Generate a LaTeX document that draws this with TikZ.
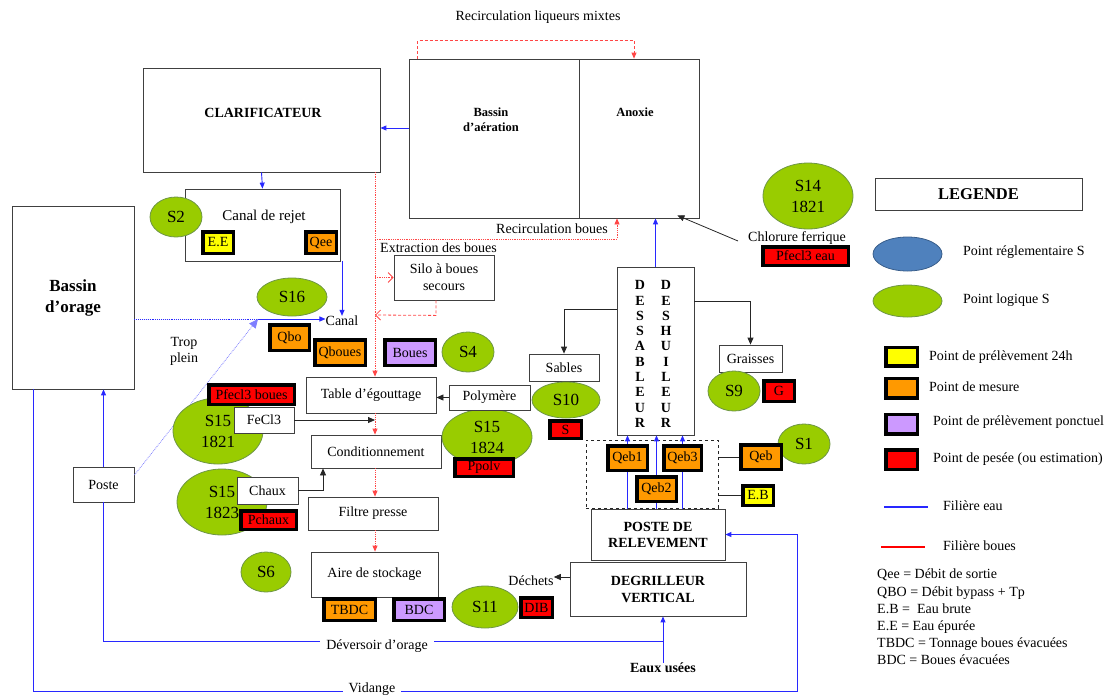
\documentclass[tikz,border=0pt]{standalone}
\usepackage{fontspec}
\setmainfont{Liberation Serif}
\usetikzlibrary{shapes.geometric,arrows.meta}

\definecolor{vertS}{RGB}{153,204,0}
\definecolor{vertB}{RGB}{110,150,70}
\definecolor{bleuS}{RGB}{79,129,189}
\definecolor{bleuB}{RGB}{56,93,138}
\definecolor{orangeM}{RGB}{255,153,0}
\definecolor{jauneP}{RGB}{255,255,0}
\definecolor{mauveP}{RGB}{204,153,255}
\definecolor{rougeP}{RGB}{255,0,0}
\definecolor{bleuF}{RGB}{40,40,255}
\definecolor{rougeF}{RGB}{255,70,70}

\begin{document}
\begin{tikzpicture}[x=1pt,y=1pt]
\tikzstyle{every node}+=[inner sep=0pt, font=\fontsize{14}{16}\selectfont]
\tikzstyle{boite}=[draw=black!75, fill=white, line width=0.8pt]
\tikzstyle{ptS}=[ellipse, draw=vertB, fill=vertS, line width=0.8pt, align=center, font=\fontsize{17}{21}\selectfont]
\tikzstyle{cadre}=[draw=black, line width=3.5pt]
\tikzstyle{eau}=[draw=bleuF, line width=0.9pt]
\tikzstyle{boue}=[draw=rougeF, densely dotted, line width=0.8pt]
\tikzstyle{fl}=[-{Triangle[length=6pt,width=5pt]}]
\tikzstyle{flo}=[-{Straight Barb[length=5pt,width=10pt]}]
\tikzstyle{noir}=[draw=black!85, line width=0.8pt, -{Triangle[length=7pt,width=6pt]}]
\useasboundingbox (0,0) rectangle (1113,-697);

% boites principales
\node[boite, minimum width=237, minimum height=104] (clarif) at (261.5,-120) {};
\node[font=\fontsize{14}{16}\selectfont\bfseries] (clarifT) at (263,-113) {CLARIFICATEUR};
\node[boite, minimum width=170, minimum height=159] (aer) at (494,-138.5) {};
\node[boite, minimum width=120, minimum height=159] (anox) at (639,-138.5) {};
\node[align=center, font=\fontsize{12.5}{15}\selectfont\bfseries] (aerT) at (491,-120) {Bassin\\d’aération};
\node[font=\fontsize{12.5}{15}\selectfont\bfseries] (anoxT) at (635,-112) {Anoxie};
\node[boite, minimum width=155, minimum height=72] (rejet) at (262.5,-225) {};
\node[font=\fontsize{15}{18}\selectfont] (rejetT) at (264,-217) {Canal de rejet};
\node[boite, minimum width=122, minimum height=183, align=center, font=\fontsize{17}{21}\selectfont\bfseries] (orage) at (73,-297.5) {Bassin\\d’orage};
\node[boite, minimum width=61, minimum height=35] (poste) at (103.5,-484.5) {Poste};
\node[boite, minimum width=100, minimum height=45, align=center, font=\fontsize{14}{17}\selectfont] (silo) at (444,-277.5) {Silo à boues\\secours};
\node[boite, minimum width=130, minimum height=36] (table) at (371,-395) {Table d’égouttage};
\node[boite, minimum width=130, minimum height=33] (cond) at (376,-451.5) {Conditionnement};
\node[boite, minimum width=130, minimum height=33] (filtre) at (373,-513.5) {Filtre presse};
\node[boite, minimum width=127, minimum height=45] (aire) at (374.5,-574.5) {Aire de stockage};
\node[boite, minimum width=70, minimum height=27] (sables) at (564,-367.5) {Sables};
\node[boite, minimum width=77, minimum height=168] (dess) at (655.5,-351) {};
\node[align=center, font=\fontsize{14}{15.3}\selectfont\bfseries] (dessA) at (640,-354) {D\\E\\S\\S\\A\\B\\L\\E\\U\\R};
\node[align=center, font=\fontsize{14}{15.3}\selectfont\bfseries] (dessB) at (666,-354) {D\\E\\S\\H\\U\\I\\L\\E\\U\\R};
\node[boite, minimum width=63, minimum height=27] (graisses) at (750.5,-358.5) {Graisses};
\node[draw=black!85, dashed, line width=0.8pt, minimum width=132, minimum height=68] (cadreQeb) at (652,-474) {};
\node[boite, minimum width=134, minimum height=51, align=center, font=\fontsize{14}{16}\selectfont\bfseries] (relev) at (658,-534.5) {POSTE DE\\RELEVEMENT};
\node[boite, minimum width=176, minimum height=54, align=center, font=\fontsize{14}{17}\selectfont\bfseries] (degr) at (658,-589) {DEGRILLEUR\\VERTICAL};
\node[boite, minimum width=207, minimum height=32, font=\fontsize{16.5}{18}\selectfont\bfseries] (legende) at (978.5,-194) {LEGENDE};

% textes
\node (titre) at (538,-17) {Recirculation liqueurs mixtes};
\node (recircB) at (552,-229) {Recirculation boues};
\node[anchor=west] (extract) at (380,-248) {Extraction des boues};
\node (canal) at (342,-321) {Canal};
\node[align=center] (trop) at (184,-351) {Trop\\plein};
\node (chlor) at (797,-238) {Chlorure ferrique};
\node (dechets) at (531,-581) {Déchets};
\node[font=\fontsize{14}{16}\selectfont\bfseries] (eaux) at (663,-668) {Eaux usées};
\coordinate (jct) at (258,-319);
\coordinate (rb) at (375,-172);

% filiere eau
\draw[eau, fl] (aer.west |- 0,-128) -- (clarif.east |- 0,-128);
\draw[eau, fl] (clarif.south) -- (rejet.north);
\draw[eau, fl] (rejet.south -| canal.north) -- (canal.north);
\draw[eau, densely dotted] (orage.east |- jct) -- (jct);
\draw[eau, fl] (jct) -- (canal.west |- jct);
\draw[draw=bleuF!60, line width=0.8pt, densely dotted, -{Triangle[length=9pt,width=8pt]}] ([yshift=9.5pt]poste.east) -- (jct);
\draw[eau, fl] (poste.north) -- (poste.north |- orage.south);
\draw[eau] (eaux.north |- 0,-641) -| (poste.south);
\draw[eau, fl] (eaux.north) -- (eaux.north |- degr.south);
\node[fill=white, inner xsep=6pt] (devers) at (377,-646) {Déversoir d’orage};
\draw[eau, fl] (orage.south -| 33,0) |- (797,-691) |- (relev.east);
\node[fill=white, inner xsep=6pt] (vidange) at (372,-689) {Vidange};
\draw[eau, fl] (dess.north) -- (dess.north |- anox.south);

% filiere boues
\draw[boue, fl] (rb) -- (rb |- table.north);
\draw[boue, fl] (table.south -| rb) -- (cond.north -| rb);
\draw[boue, fl] (cond.south -| rb) -- (filtre.north -| rb);
\draw[boue, fl] (filtre.south -| rb) -- (aire.north -| rb);
\draw[boue, fl] (rb |- 0,-239) -| ([xshift=-22pt]anox.south);
\draw[boue, flo] (rb |- silo.west) -- (silo.west);
\draw[boue, densely dashed, flo] ([xshift=-8pt]silo.south) -- ++(0,-15) -- (rb |- 0,-315);
\draw[boue, densely dashed, fl] ([xshift=9pt]aer.north west) -- ++(0,18) -| ([xshift=-5pt]anox.north);

% points S
\node[ptS, minimum width=52, minimum height=40] (s2) at (176,-217) {S2};
\node[ptS, minimum width=70, minimum height=38] (s16) at (292,-297) {S16};
\node[ptS, minimum width=52, minimum height=40] (s4) at (468,-352) {S4};
\node[ptS, minimum width=90, minimum height=66] (s15a) at (218,-431) {S15\\1821};
\node[ptS, minimum width=90, minimum height=66] (s15b) at (222,-502) {S15\\1823};
\node[ptS, minimum width=90, minimum height=56] (s15c) at (487,-437) {S15\\1824};
\node[ptS, minimum width=68, minimum height=36] (s10) at (566,-400) {S10};
\node[ptS, minimum width=52, minimum height=40] (s9) at (734,-391) {S9};
\node[ptS, minimum width=52, minimum height=40] (s1) at (804,-444) {S1};
\node[ptS, minimum width=90, minimum height=66] (s14) at (808,-196) {S14\\1821};
\node[ptS, minimum width=50, minimum height=40] (s6) at (266,-572) {S6};
\node[ptS, minimum width=66, minimum height=42] (s11) at (485,-607) {S11};

% points de mesure
\node[cadre, fill=jauneP, minimum width=30.5, minimum height=21.5] (ee) at (218,-242.5) {E.E};
\node[cadre, fill=orangeM, minimum width=30.5, minimum height=21.5] (qee) at (321,-242.5) {Qee};
\node[cadre, fill=orangeM, minimum width=39.5, minimum height=25.5] (qbo) at (289.5,-337.5) {Qbo};
\node[cadre, fill=orangeM, minimum width=50.5, minimum height=25.5] (qboues) at (340,-352.5) {Qboues};
\node[cadre, fill=mauveP, minimum width=50.5, minimum height=25.5] (boues) at (410,-352.5) {Boues};
\node[cadre, fill=rougeP, minimum width=85.5, minimum height=19.5] (pfeb) at (251.5,-394.5) {Pfecl3 boues};
\node[cadre, fill=rougeP, minimum width=55.5, minimum height=18.5] (pchaux) at (268.5,-520) {Pchaux};
\node[cadre, fill=rougeP, minimum width=58.5, minimum height=17.5] (ppolv) at (484,-467.5) {Ppolv};
\node[cadre, fill=rougeP, minimum width=31.5, minimum height=17.5] (psab) at (565.5,-429.5) {S};
\node[cadre, fill=rougeP, minimum width=30.5, minimum height=20.5] (pgr) at (779,-391) {G};
\node[cadre, fill=orangeM, minimum width=39.5, minimum height=24.5] (qeb1) at (627.5,-458) {Qeb1};
\node[cadre, fill=orangeM, minimum width=37.5, minimum height=24.5] (qeb3) at (682.5,-458) {Qeb3};
\node[cadre, fill=orangeM, minimum width=39.5, minimum height=24.5] (qeb2) at (656.5,-489) {Qeb2};
\node[cadre, fill=orangeM, minimum width=40.5, minimum height=24.5] (qeb) at (761,-457) {Qeb};
\node[cadre, fill=jauneP, minimum width=30.5, minimum height=19.5] (eb) at (758,-495.5) {E.B};
\node[cadre, fill=rougeP, minimum width=85.5, minimum height=18.5] (pfee) at (805.5,-256) {Pfecl3 eau};
\node[cadre, fill=orangeM, minimum width=51.5, minimum height=21.5] (tbdc) at (349.5,-609.5) {TBDC};
\node[cadre, fill=mauveP, minimum width=50.5, minimum height=21.5] (bdc) at (419,-609.5) {BDC};
\node[cadre, fill=rougeP, minimum width=31.5, minimum height=19.5] (dib) at (536.5,-607.5) {DIB};

% reactifs
\node[boite, minimum width=60, minimum height=26] (fecl) at (264,-420) {FeCl3};
\node[boite, minimum width=61, minimum height=27] (chaux) at (267.5,-490.5) {Chaux};
\node[boite, minimum width=81, minimum height=25] (polym) at (489.5,-397.5) {Polymère};

% liaisons
\draw[eau] (relev.north -| qeb1.south) -- (qeb1.south);
\draw[eau, fl] (qeb1.north) -- (qeb1.north |- dess.south);
\draw[eau] (relev.north -| qeb2.south) -- (qeb2.south);
\draw[eau, fl] (qeb2.north) -- (qeb2.north |- dess.south);
\draw[eau] (relev.north -| qeb3.south) -- (qeb3.south);
\draw[eau, fl] (qeb3.north) -- (qeb3.north |- dess.south);
\draw[noir] (fecl.east) -- (fecl.east -| rb);
\draw[noir] (chaux.east) -| ([xshift=-53pt]cond.south);
\draw[noir] (polym.west) -- (polym.west -| table.east);
\draw[noir] (dess.west |- 0,-309) -| (sables.north);
\draw[noir] (dess.east |- 0,-301) -| (graisses.north);
\draw[noir] (degr.west |- 0,-577) -- (dechets.east |- 0,-577);
\draw[noir] ([xshift=-10pt,yshift=-3pt]chlor.west) -- ([xshift=-22pt,yshift=3pt]anox.south east);
\draw[black!85, line width=0.8pt] (cadreQeb.east |- qeb.west) -- (qeb.west);
\draw[black!85, line width=0.8pt] (cadreQeb.east |- eb.west) -- (eb.west);

% legende
\node[ellipse, draw=bleuB, fill=bleuS, line width=0.8pt, minimum width=69, minimum height=34] (legR) at (907.5,-254) {};
\node[anchor=west] (legRT) at (963,-252) {Point réglementaire S};
\node[ptS, minimum width=69, minimum height=32] (legL) at (907.5,-301) {};
\node[anchor=west] (legLT) at (963,-300) {Point logique S};
\node[cadre, fill=jauneP, minimum width=31.5, minimum height=18.5] (leg24) at (901.5,-356.5) {};
\node[anchor=west] (leg24T) at (929,-357) {Point de prélèvement 24h};
\node[cadre, fill=orangeM, minimum width=31.5, minimum height=19.5] (legM) at (901.5,-388) {};
\node[anchor=west] (legMT) at (929,-387) {Point de mesure};
\node[cadre, fill=mauveP, minimum width=31.5, minimum height=19.5] (legP) at (901.5,-424) {};
\node[anchor=west] (legPT) at (933,-422) {Point de prélèvement ponctuel};
\node[cadre, fill=rougeP, minimum width=31.5, minimum height=19.5] (legE) at (901.5,-459.5) {};
\node[anchor=west] (legET) at (933,-459) {Point de pesée (ou estimation)};
\draw[draw=bleuF, line width=1.5pt] (884,-507) -- (928,-507);
\node[anchor=west] (legEau) at (943,-506) {Filière eau};
\draw[draw=rougeP, line width=1.5pt] (881,-547) -- (925,-547);
\node[anchor=west] (legBoue) at (943,-546) {Filière boues};
\node[anchor=north west, align=left, font=\fontsize{14}{17.2}\selectfont] (abrev) at (877,-569) {Qee = Débit de sortie\\QBO = Débit bypass + Tp\\E.B =\ \ Eau brute\\E.E = Eau épurée\\TBDC = Tonnage boues évacuées\\BDC = Boues évacuées};
\end{tikzpicture}
\end{document}
